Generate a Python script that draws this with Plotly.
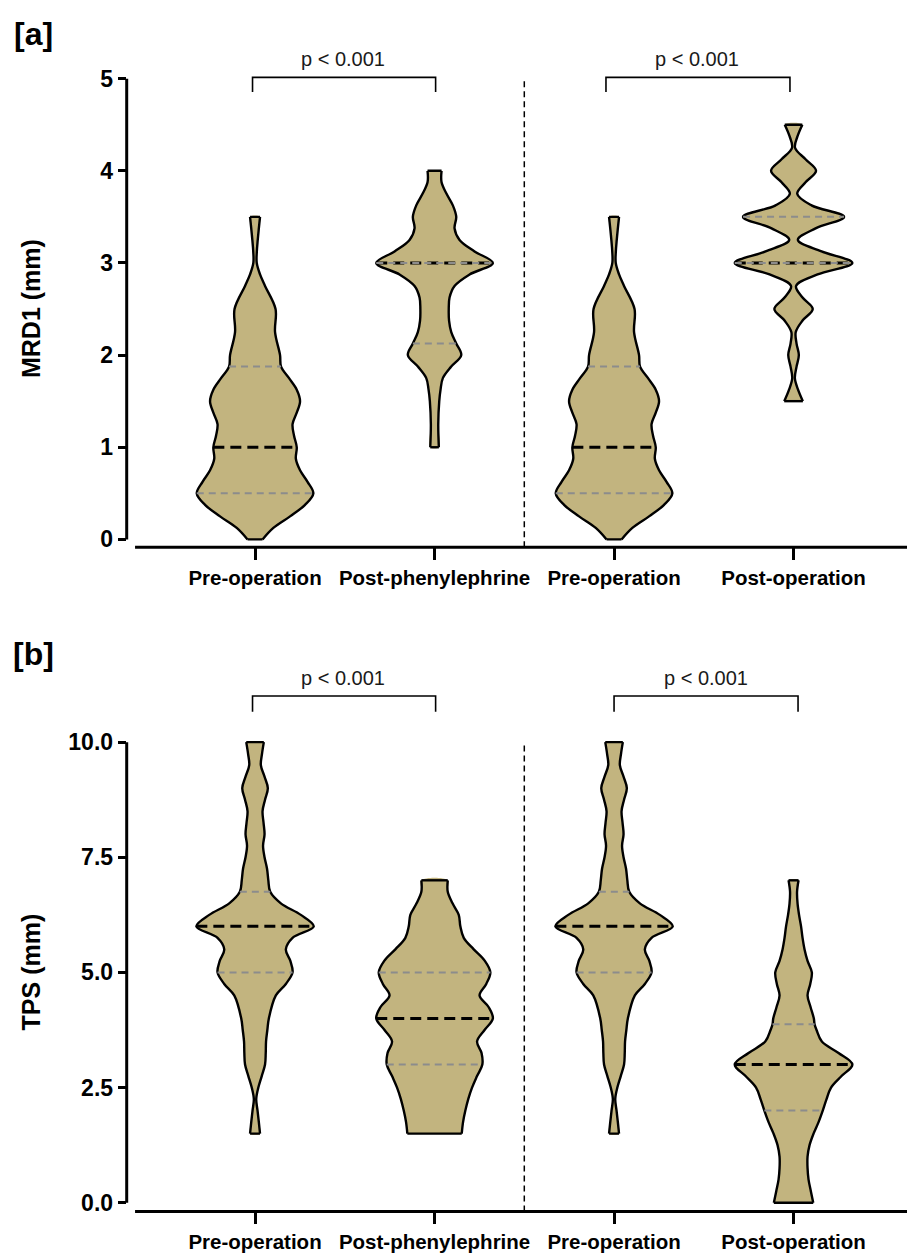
import numpy as np
import plotly.graph_objects as go

# ---------------- data ----------------
CATEGORIES = ["Pre-operation", "Post-phenylephrine", "Pre-operation", "Post-operation"]
POSITIONS = [0, 1, 2, 3]

MRD1_TICKS = [0, 1, 2, 3, 4, 5]
MRD1_TICK_TEXT = ["0", "1", "2", "3", "4", "5"]
TPS_TICKS = [0, 2.5, 5, 7.5, 10]
TPS_TICK_TEXT = ["0.0", "2.5", "5.0", "7.5", "10.0"]

# violin density profiles (value level -> relative density)
MRD1_PRE_Y = [0, 0.125, 0.25, 0.375, 0.5, 0.625, 0.75, 0.875, 1.0, 1.125, 1.25, 1.375, 1.5,
              1.625, 1.75, 1.875, 2.0, 2.25, 2.5, 2.75, 2.875, 3.0, 3.125, 3.25, 3.375, 3.5]
MRD1_PRE_D = [7.5, 18.3, 35, 50, 58.3, 52.5, 45, 40.8, 41.7, 39, 37.5, 41.7, 45,
              41.7, 34, 26, 25, 20, 20.5, 10, 5, 1.7, 1.8, 2.7, 3.8, 5]

MRD1_PHEN_Y = [1.0, 1.25, 1.5, 1.625, 1.75, 1.875, 2.0, 2.125, 2.25, 2.375, 2.5, 2.625, 2.75,
               2.875, 3.0, 3.125, 3.25, 3.375, 3.5, 3.625, 3.75, 3.875, 4.0]
MRD1_PHEN_D = [4.3, 3.7, 4.7, 6, 8.3, 16.7, 26.7, 21.7, 16.7, 14.5, 14.2, 15, 20,
               35, 58.3, 40, 25, 20, 21.7, 18.3, 12, 7, 7]

MRD1_POST_Y = [1.5, 1.625, 1.75, 1.875, 2.0, 2.125, 2.25, 2.375, 2.5, 2.625, 2.75, 2.875, 3.0,
               3.125, 3.25, 3.375, 3.5, 3.625, 3.75, 3.875, 4.0, 4.125, 4.25, 4.375, 4.5]
MRD1_POST_D = [9.3, 4.5, 1.3, 3, 5.3, 3, 2.2, 9, 19.2, 9, 2.5, 24, 58.8,
               28, 4.3, 22, 50.5, 18, 3.7, 12, 22.5, 12, 1.5, 4, 8.8]

TPS_PRE_Y = [1.5, 1.75, 2.0, 2.25, 2.5, 2.75, 3.0, 3.25, 3.5, 3.75, 4.0, 4.5, 4.75, 5.0, 5.25,
             5.5, 5.75, 6.0, 6.25, 6.5, 6.75, 7.0, 7.25, 7.5, 7.75, 8.0, 8.25, 8.5, 8.75,
             9.0, 9.25, 9.5, 9.75, 10.0]
TPS_PRE_D = [5, 3.8, 2.5, 1.2, 3.3, 6.7, 10, 10.7, 11, 12.3, 13.8, 20.8, 30.8, 37.5, 35.3,
             30.8, 37.5, 58.7, 45.8, 25.8, 15.2, 13.3, 12, 9.5, 8, 9.5, 8.5, 7.5, 10,
             12.8, 9.5, 5.8, 7, 8.8]

TPS_PHEN_Y = [1.5, 1.75, 2.0, 2.25, 2.5, 2.75, 3.0, 3.25, 3.5, 3.75, 4.0, 4.25, 4.5, 4.75,
              5.0, 5.25, 5.5, 5.75, 6.0, 6.25, 6.5, 6.75, 7.0]
TPS_PHEN_D = [27.2, 28.5, 30.8, 33.7, 37.5, 42.5, 47.8, 47, 42.5, 50, 58.3, 54, 45, 51.7,
              55.8, 50.3, 39.2, 29.2, 25.8, 24.2, 18, 13.2, 13.2]

TPS_POST_Y = [0, 0.25, 0.5, 0.75, 1.0, 1.25, 1.5, 1.75, 2.0, 2.25, 2.5, 2.75, 3.0, 3.25, 3.5,
              3.75, 3.875, 4.0, 4.25, 4.5, 4.75, 5.0, 5.25, 5.5, 5.75, 6.0, 6.25, 6.5, 6.75, 7.0]
TPS_POST_D = [19.7, 17.3, 15, 14, 14, 16, 20, 25, 29.2, 33, 37.5, 48, 58.8, 45, 28.3,
              23, 21, 20.3, 17, 14, 16.7, 18.3, 14, 11, 9, 7.5, 5.5, 4, 3.5, 5]

MRD1_MEDIAN = [1.0, 3.0, 1.0, 3.0]
MRD1_Q1 = [0.5, 2.125, 0.5, 3.0]
MRD1_Q3 = [1.875, 3.0, 1.875, 3.5]

TPS_MEDIAN = [6.0, 4.0, 6.0, 3.0]
TPS_Q1 = [5.0, 3.0, 5.0, 2.0]
TPS_Q3 = [6.75, 5.0, 6.75, 3.875]

P_TEXT = ["p < 0.001", "p < 0.001"]

# ---------------- styling / layout ----------------
W, H = 907, 1253
FILL = "#C2B47F"
GRAY = "#8C8C8C"
FONT = "Liberation Sans, Arial, Helvetica, sans-serif"
DENS_TO_X = 1 / 179.5          # density unit -> x axis units

X_LEFT_PX = 126.7
X_RANGE = [-0.715, 3.632]

PANELS = [
    dict(xa="x", ya="y", xname="xaxis", yname="yaxis",
         top_px=40, bottom_px=550, yrange=[-0.0864, 5.4212],
         ticks=MRD1_TICKS, ticktext=MRD1_TICK_TEXT, top_tick=5,
         profiles=[(MRD1_PRE_Y, MRD1_PRE_D), (MRD1_PHEN_Y, MRD1_PHEN_D),
                   (MRD1_PRE_Y, MRD1_PRE_D), (MRD1_POST_Y, MRD1_POST_D)],
         med=MRD1_MEDIAN, q1=MRD1_Q1, q3=MRD1_Q3,
         title="MRD1 (mm)", label="[a]", label_px=34,
         bracket_y=5.014, leg_y=4.856, text_y=5.212,
         brackets=[(-0.014, 1.006, 0.49), (1.955, 2.98, 2.46)]),
    dict(xa="x2", ya="y2", xname="xaxis2", yname="yaxis2",
         top_px=660, bottom_px=1217.3, yrange=[-0.1901, 11.8518],
         ticks=TPS_TICKS, ticktext=TPS_TICK_TEXT, top_tick=10,
         profiles=[(TPS_PRE_Y, TPS_PRE_D), (TPS_PHEN_Y, TPS_PHEN_D),
                   (TPS_PRE_Y, TPS_PRE_D), (TPS_POST_Y, TPS_POST_D)],
         med=TPS_MEDIAN, q1=TPS_Q1, q3=TPS_Q3,
         title="TPS (mm)", label="[b]", label_px=657,
         bracket_y=11.0, leg_y=10.66, text_y=11.398,
         brackets=[(-0.014, 1.006, 0.49), (2.0, 3.025, 2.51)]),
]

fig = go.Figure()
shapes = []
annotations = []
layout = dict(
    width=W, height=H, margin=dict(l=0, r=0, t=0, b=0),
    paper_bgcolor="white", plot_bgcolor="white", showlegend=False,
    font=dict(family=FONT, color="black"),
)

for p in PANELS:
    xa, ya = p["xa"], p["ya"]
    for pos, (ys, ds), med, q1, q3 in zip(POSITIONS, p["profiles"], p["med"], p["q1"], p["q3"]):
        ys = np.asarray(ys, float)
        hw = np.asarray(ds, float) * DENS_TO_X
        # fill: start at the end with the wider cap so its corners stay sharp
        if hw[-1] >= hw[0]:
            ry, rw = ys[::-1], hw[::-1]
        else:
            ry, rw = ys, hw
        fx = np.concatenate([pos + rw, (pos - rw)[::-1]])
        fy = np.concatenate([ry, ry[::-1]])
        fig.add_trace(go.Scatter(
            x=fx, y=fy, mode="lines", fill="toself", fillcolor=FILL,
            line=dict(color="rgba(0,0,0,0)", width=0, shape="spline", smoothing=1),
            xaxis=xa, yaxis=ya, hoverinfo="skip", showlegend=False))
        # outline: two smooth sides + straight caps
        ox = list(pos + hw) + [None] + list(pos - hw) + [None] + \
            [pos - hw[0], pos + hw[0]] + [None] + [pos - hw[-1], pos + hw[-1]]
        oy = list(ys) + [None] + list(ys) + [None] + \
            [ys[0], ys[0]] + [None] + [ys[-1], ys[-1]]
        fig.add_trace(go.Scatter(
            x=ox, y=oy, mode="lines", connectgaps=False,
            line=dict(color="black", width=2.4, shape="spline", smoothing=1),
            xaxis=xa, yaxis=ya, hoverinfo="skip", showlegend=False))
        # median (black) then quartiles (gray)
        w = np.interp(med, ys, hw)
        fig.add_trace(go.Scatter(
            x=[pos - w, pos + w], y=[med, med], mode="lines",
            line=dict(color="black", width=3, dash="11px,6px"),
            xaxis=xa, yaxis=ya, hoverinfo="skip", showlegend=False))
        for q in (q1, q3):
            w = np.interp(q, ys, hw)
            fig.add_trace(go.Scatter(
                x=[pos - w, pos + w], y=[q, q], mode="lines",
                line=dict(color=GRAY, width=2, dash="7px,5px"),
                xaxis=xa, yaxis=ya, hoverinfo="skip", showlegend=False))

    ydom = [(H - p["bottom_px"]) / H, (H - p["top_px"]) / H]
    xdom = [X_LEFT_PX / W, 1.0]
    layout[p["xname"]] = dict(
        domain=xdom, range=X_RANGE, anchor=ya,
        tickmode="array", tickvals=POSITIONS, ticktext=CATEGORIES,
        ticks="outside", ticklen=12, tickwidth=3, tickcolor="black",
        showgrid=False, zeroline=False, showline=False,
        tickfont=dict(family=FONT, size=20.5, color="black", weight="bold"),
        fixedrange=True)
    layout[p["yname"]] = dict(
        domain=ydom, range=p["yrange"], anchor=xa,
        tickmode="array", tickvals=p["ticks"], ticktext=p["ticktext"],
        ticks="outside", ticklen=8, tickwidth=3, tickcolor="black",
        showgrid=False, zeroline=False, showline=False,
        tickfont=dict(family=FONT, size=23, color="black", weight="bold"),
        fixedrange=True)

    # y axis line (0 .. top tick)
    shapes.append(dict(type="line", xref="paper", yref=ya,
                       x0=X_LEFT_PX / W, x1=X_LEFT_PX / W, y0=0, y1=p["top_tick"],
                       line=dict(color="black", width=3)))
    # x axis line (offset from y axis)
    shapes.append(dict(type="line", xref=xa, yref="paper",
                       x0=-0.6685, x1=X_RANGE[1], y0=ydom[0], y1=ydom[0],
                       line=dict(color="black", width=3)))
    # dashed divider between the two comparisons
    shapes.append(dict(type="line", xref=xa, yref=ya,
                       x0=1.5, x1=1.5, y0=p["yrange"][0], y1=p["top_tick"],
                       line=dict(color="black", width=1.5, dash="6px,4px")))
    # significance brackets
    for (bx0, bx1, tx), txt in zip(p["brackets"], P_TEXT):
        shapes.append(dict(type="path", xref=xa, yref=ya,
                           path=f"M {bx0},{p['leg_y']} L {bx0},{p['bracket_y']} "
                                f"L {bx1},{p['bracket_y']} L {bx1},{p['leg_y']}",
                           line=dict(color="black", width=1.6)))
        annotations.append(dict(xref=xa, yref=ya, x=tx, y=p["text_y"], text=txt,
                                showarrow=False, xanchor="center", yanchor="middle",
                                font=dict(family=FONT, size=20, color="#1a1a1a")))
    # axis title
    mid = p["ticks"][-1] / 2
    annotations.append(dict(xref="paper", yref=ya, x=31 / W, y=mid, text=p["title"],
                            textangle=-90, showarrow=False, xanchor="center", yanchor="middle",
                            font=dict(family=FONT, size=25, color="black", weight="bold")))
    # panel label
    annotations.append(dict(xref="paper", yref="paper", x=33 / W, y=(H - p["label_px"]) / H,
                            text=p["label"], showarrow=False, xanchor="center", yanchor="middle",
                            font=dict(family=FONT, size=32, color="black", weight="bold")))

layout["shapes"] = shapes
layout["annotations"] = annotations
fig.update_layout(**layout)
fig.write_html("out.html")
